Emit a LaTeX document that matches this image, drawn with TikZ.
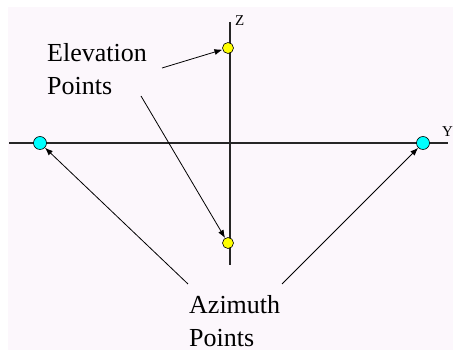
\documentclass[tikz,border=0pt]{standalone}
\usepackage{fontspec}
\setmainfont{Liberation Serif}
\usetikzlibrary{arrows.meta}
\definecolor{bgpink}{RGB}{252,247,252}
\definecolor{ptyellow}{RGB}{255,255,0}
\definecolor{ptcyan}{RGB}{0,255,255}
\tikzset{
  axis/.style={draw=black!85, line width=1.3pt},
  pointer/.style={draw=black, line width=0.8pt, -{Latex[length=8pt,width=6pt]}},
  elev/.style={circle, draw=black, line width=0.6pt, fill=ptyellow, minimum size=11pt, inner sep=0pt},
  azim/.style={circle, draw=black, line width=0.6pt, fill=ptcyan, minimum size=13pt, inner sep=0pt},
  lbl/.style={font=\fontsize{26}{33}\selectfont, align=left, inner sep=0pt, anchor=north west},
  axlbl/.style={font=\fontsize{15}{15}\selectfont, inner sep=0pt}
}
\begin{document}
\begin{tikzpicture}[x=1pt,y=-1pt]
\useasboundingbox (0,0) rectangle (453,352);
\fill[white] (0,0) rectangle (453,352);
\fill[bgpink] (8,7) rectangle (453,350);
% axes
\coordinate (ztop) at (230,22);
\coordinate (zbot) at (230,265);
\coordinate (yl) at (9,143);
\coordinate (yr) at (448,143);
\draw[axis] (ztop) -- (zbot);
\draw[axis] (yl) -- (yr);
\node[axlbl, anchor=north west] (zlab) at (235,15) {Z};
\node[axlbl, anchor=north west] (ylab) at (442,126) {Y};
% points
\node[elev] (e1) at (228,48) {};
\node[elev] (e2) at (228,243) {};
\node[azim] (a1) at (40,143) {};
\node[azim] (a2) at (423,143) {};
% labels
\node[lbl] (elevtxt) at (47,43) {Elevation\\Points};
\node[lbl] (azitxt) at (189,295) {Azimuth\\Points};
% arrow start points
\coordinate (s1) at (162,68);
\coordinate (s2) at (141,96);
\coordinate (s3) at (188,284);
\coordinate (s4) at (282,284);
\draw[pointer] (s1) -- (e1);
\draw[pointer] (s2) -- (e2);
\draw[pointer] (s3) -- (a1);
\draw[pointer] (s4) -- (a2);
\end{tikzpicture}
\end{document}
